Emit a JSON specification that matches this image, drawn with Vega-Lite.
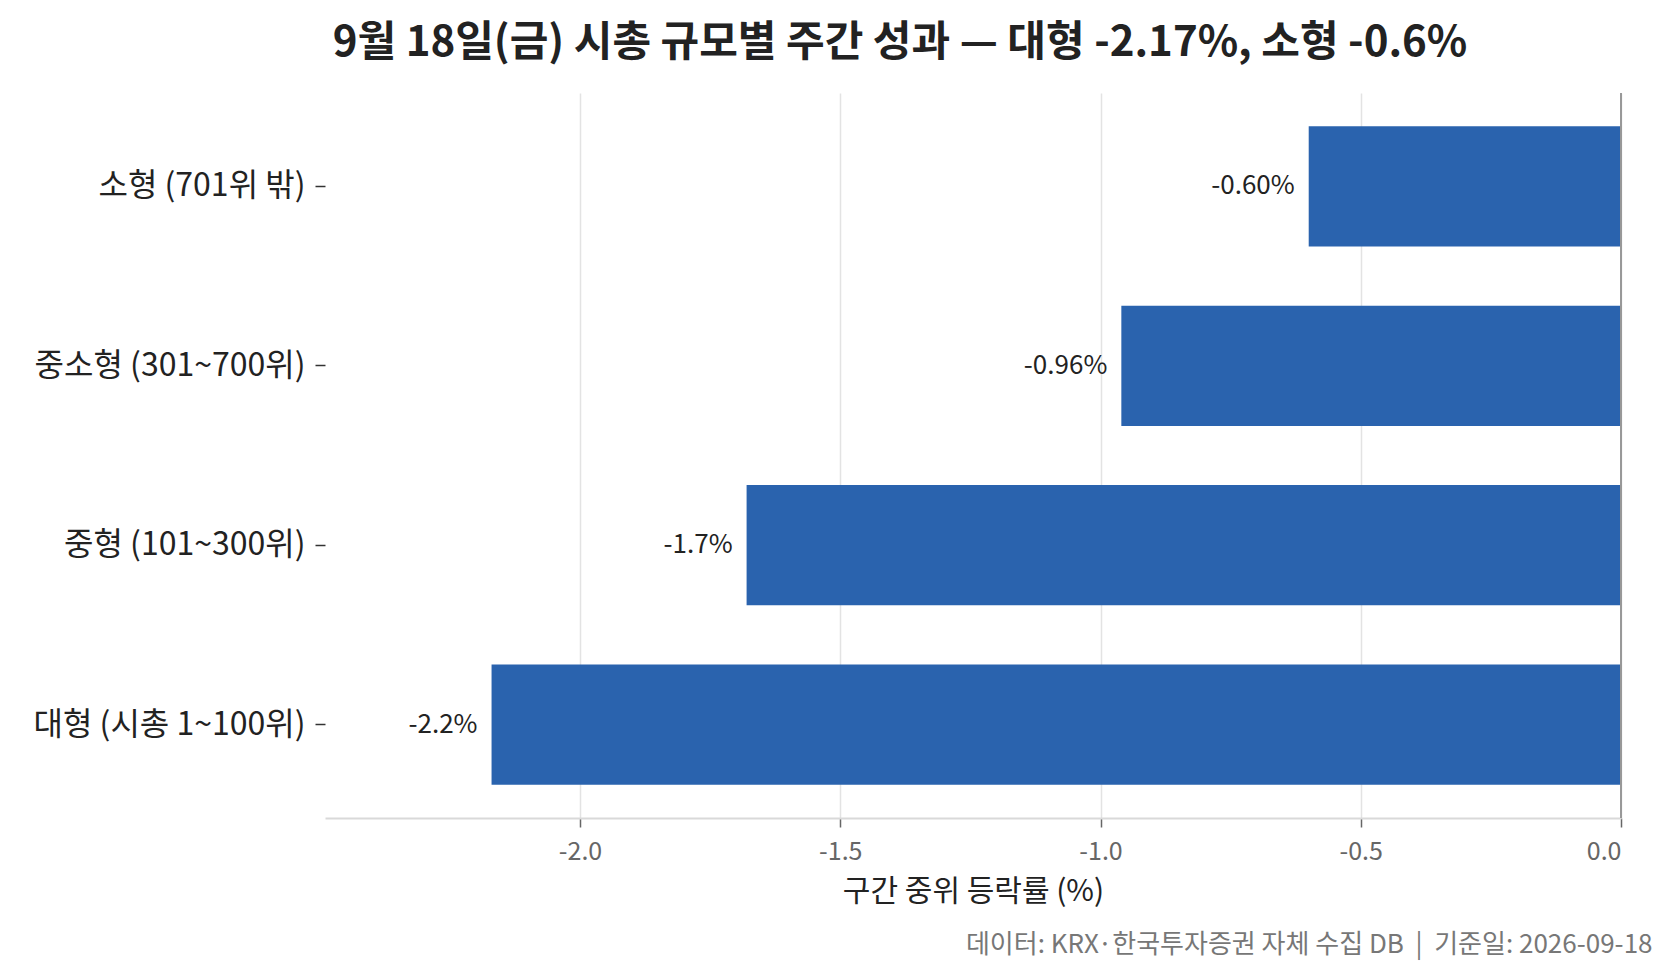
{
  "$schema": "https://vega.github.io/schema/vega-lite/v6.json",
  "width": 1296,
  "height": 725,
  "autosize": {"type": "none"},
  "padding": {"left": 325, "top": 93, "right": 52, "bottom": 157},
  "background": "white",
  "config": {
    "font": "Noto Sans CJK KR",
    "view": {"stroke": null}
  },
  "title": {
    "text": "9월 18일(금) 시총 규모별 주간 성과 — 대형 -2.17%, 소형 -0.6%",
    "fontSize": 42,
    "fontWeight": "bold",
    "color": "#222222",
    "anchor": "middle",
    "dx": -73,
    "offset": 27
  },
  "data": {
    "values": [
      {"group": "소형 (701위 밖)", "change": -0.60, "label": "-0.60%"},
      {"group": "중소형 (301~700위)", "change": -0.96, "label": "-0.96%"},
      {"group": "중형 (101~300위)", "change": -1.68, "label": "-1.7%"},
      {"group": "대형 (시총 1~100위)", "change": -2.17, "label": "-2.2%"}
    ]
  },
  "encoding": {
    "y": {
      "field": "group",
      "type": "nominal",
      "sort": null,
      "scale": {"paddingInner": 0.33, "paddingOuter": 0.185},
      "axis": {
        "title": null,
        "domain": false,
        "ticks": true,
        "tickSize": 10,
        "tickColor": "#333333",
        "tickWidth": 1.5,
        "labelPadding": 10,
        "labelFontSize": 32,
        "labelColor": "#222222",
        "labelLimit": 400
      }
    }
  },
  "layer": [
    {
      "mark": {"type": "bar", "color": "#2a63ae"},
      "encoding": {
        "x": {
          "field": "change",
          "type": "quantitative",
          "scale": {"domain": [-2.49, 0], "nice": false, "zero": false},
          "axis": {
            "title": "구간 중위 등락률 (%)",
            "titleFontSize": 30,
            "titleFontWeight": "normal",
            "titleColor": "#222222",
            "titlePadding": 12,
            "values": [-2, -1.5, -1, -0.5, 0],
            "labelExpr": "replace(format(datum.value, '.1f'), '\u2212', '-')",
            "labelFontSize": 25,
            "labelColor": "#666666",
            "labelPadding": 12,
            "tickSize": 9,
            "tickColor": "#666666",
            "tickWidth": 1.5,
            "domainColor": "#d9d9d9",
            "domainWidth": 2,
            "grid": true,
            "gridColor": "#e3e3e3",
            "gridWidth": 1.5
          }
        }
      }
    },
    {
      "mark": {"type": "text", "align": "right", "baseline": "middle", "dx": -14, "fontSize": 26, "color": "#222222"},
      "encoding": {
        "x": {"field": "change", "type": "quantitative", "axis": null},
        "text": {"field": "label"}
      }
    },
    {
      "mark": {"type": "rule", "color": "#999999", "strokeWidth": 1.5},
      "encoding": {
        "x": {
          "datum": 0,
          "type": "quantitative",
          "axis": {
            "orient": "bottom",
            "domain": false,
            "ticks": false,
            "labels": false,
            "grid": false,
            "title": "데이터: KRX·한국투자증권 자체 수집 DB \u00a0|\u00a0 기준일: 2026-09-18",
            "titleFontSize": 26,
            "titleFontWeight": "normal",
            "titleColor": "#777777",
            "titleAnchor": "end",
            "titleAlign": "right",
            "titleBaseline": "middle",
            "titleX": 1327,
            "titleY": 126
          }
        },
        "y": {"value": 0},
        "y2": {"value": 725}
      }
    }
  ],
  "resolve": {"axis": {"x": "independent"}}
}
